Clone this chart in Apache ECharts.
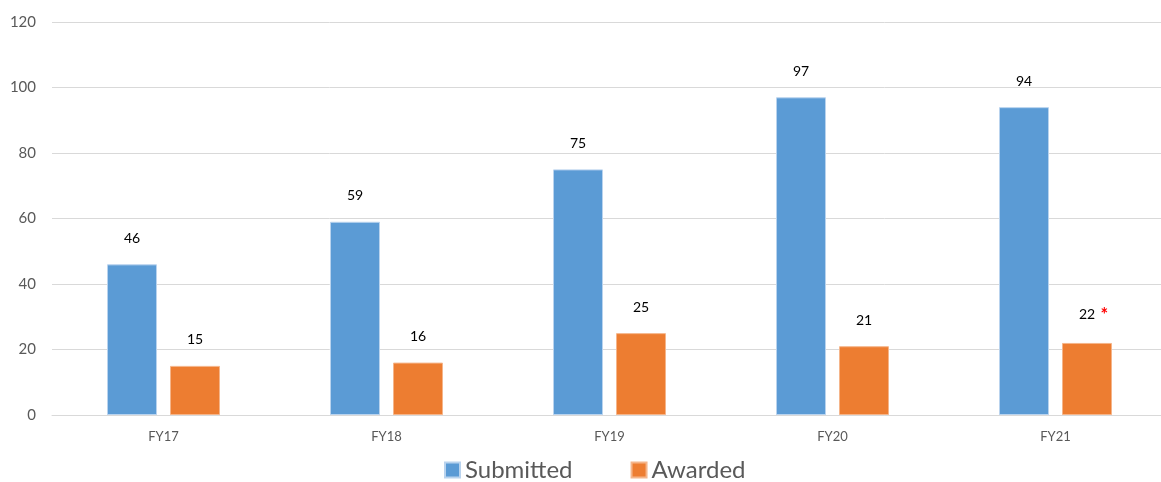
<!DOCTYPE html>
<html>
<head>
<meta charset="utf-8">
<script src="https://cdn.jsdelivr.net/npm/echarts@6/dist/echarts.min.js"></script>
<style>
  html, body { margin: 0; padding: 0; background: #fff; }
  #chart { width: 1161px; height: 482px; }
</style>
</head>
<body>
<div id="chart"></div>
<script>
// fiscal years and counts
const years = ['FY17', 'FY18', 'FY19', 'FY20', 'FY21']
const submitted = [46, 59, 75, 97, 94]
const awarded = [15, 16, 25, 21, 22]
const yTicks = { min: 0, max: 120, step: 20 }

const myChart = echarts.init(document.getElementById('chart'))
const font = 'Lato, "Open Sans", sans-serif'

const barLabel = (extra) => ({
  show: true,
  position: 'top',
  distance: 19,
  color: '#000',
  fontSize: 14,
  fontFamily: font,
  ...extra
})

myChart.setOption({
  backgroundColor: '#fff',
  animation: false,
  // plot runs a little past the right edge of the picture
  grid: { left: 52, top: 22, width: 1115, height: 393, outerBoundsMode: 'none' },
  legend: {
    top: 453,
    left: 439,
    itemWidth: 15,
    itemHeight: 15,
    itemGap: 58,
    icon: 'rect',
    textStyle: { fontSize: 24, color: '#595959', fontFamily: font },
    data: ['Submitted', 'Awarded']
  },
  xAxis: {
    type: 'category',
    data: years,
    axisLine: { lineStyle: { color: '#d9d9d9' } },
    axisTick: { show: false },
    axisLabel: { color: '#595959', fontSize: 13, margin: 15, fontFamily: font }
  },
  yAxis: {
    type: 'value',
    min: yTicks.min,
    max: yTicks.max,
    interval: yTicks.step,
    axisLine: { show: false },
    axisTick: { show: false },
    splitLine: { lineStyle: { color: '#d9d9d9' } },
    axisLabel: { color: '#595959', fontSize: 15, margin: 16, fontFamily: font }
  },
  series: [
    {
      name: 'Submitted',
      type: 'bar',
      data: submitted,
      barWidth: 50,
      barGap: '26%',
      itemStyle: { color: '#5B9BD5', borderColor: '#b9d3ee', borderWidth: 1 },
      label: barLabel()
    },
    {
      name: 'Awarded',
      type: 'bar',
      data: awarded,
      barWidth: 50,
      itemStyle: { color: '#ED7D31', borderColor: '#f5b58a', borderWidth: 1 },
      label: barLabel({
        // FY21 awarded carries a red asterisk, hanging to the right of the centred number
        formatter: (p) => p.dataIndex === years.length - 1 ? '{s| }' + p.value + '{r|*}' : String(p.value),
        rich: {
          s: { width: 13 },
          r: { color: '#ff0000', fontSize: 18, fontWeight: 'bold', width: 13, align: 'right', verticalAlign: 'top', fontFamily: font }
        }
      })
    }
  ]
})
</script>
</body>
</html>
